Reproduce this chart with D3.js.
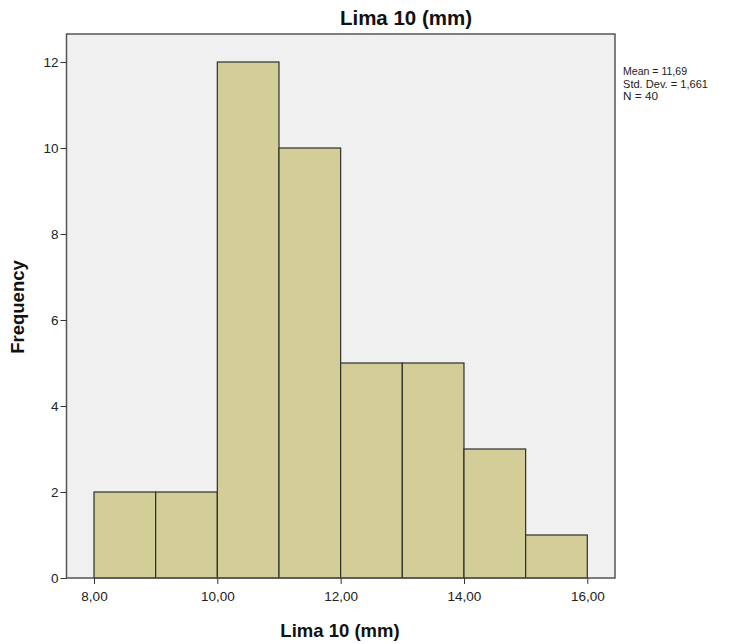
<!DOCTYPE html>
<html>
<head>
<meta charset="utf-8">
<script src="https://cdn.jsdelivr.net/npm/d3@7"></script>
<style>
  html, body { margin: 0; padding: 0; background: #ffffff; }
  svg { display: block; font-family: "Liberation Sans", Arial, sans-serif; }
</style>
</head>
<body>
<svg id="chart" width="736" height="644"></svg>
<script>
// Data
const binStarts = [8, 9, 10, 11, 12, 13, 14, 15];
const binEnds   = [9, 10, 11, 12, 13, 14, 15, 16];
const frequencies = [2, 2, 12, 10, 5, 5, 3, 1];
const xTicks = [8, 10, 12, 14, 16];
const yTicks = [0, 2, 4, 6, 8, 10, 12];
const statsLines = ["Mean = 11,69", "Std. Dev. = 1,661", "N = 40"];
const titleText = "Lima 10 (mm)";
const xLabel = "Lima 10 (mm)";
const yLabel = "Frequency";

const svg = d3.select("#chart");
const frame = { left: 66.5, right: 615, top: 34, bottom: 578 };

const x = d3.scaleLinear().domain([8, 16]).range([94, 587.3]);
const y = d3.scaleLinear().domain([0, 12]).range([578, 62]);

// Background panel
svg.append("rect")
  .attr("x", frame.left).attr("y", frame.top)
  .attr("width", frame.right - frame.left)
  .attr("height", frame.bottom - frame.top)
  .attr("fill", "#f0f0f0");

// Bars
const bins = binStarts.map((s, i) => ({ x0: s, x1: binEnds[i], n: frequencies[i] }));
svg.append("g").selectAll("rect").data(bins).join("rect")
  .attr("x", d => x(d.x0))
  .attr("y", d => y(d.n))
  .attr("width", d => x(d.x1) - x(d.x0))
  .attr("height", d => y(0) - y(d.n))
  .attr("fill", "#d3ce97")
  .attr("stroke", "#2e2e2e")
  .attr("stroke-width", 1.2);

// Frame
svg.append("rect")
  .attr("x", frame.left).attr("y", frame.top)
  .attr("width", frame.right - frame.left)
  .attr("height", frame.bottom - frame.top)
  .attr("fill", "none")
  .attr("stroke", "#555555")
  .attr("stroke-width", 1.5);

// Y axis
const yAxis = svg.append("g")
  .attr("transform", `translate(${frame.left},0)`)
  .call(d3.axisLeft(y).tickValues(yTicks).tickSize(6).tickPadding(2).tickFormat(d3.format("d")));
yAxis.select(".domain").remove();
yAxis.selectAll("line").attr("stroke", "#333");
yAxis.selectAll("text").attr("font-size", 13.5).attr("fill", "#222")
  .style("font-family", "'Liberation Sans', Arial, sans-serif");

// X axis
const fmt = d => d3.format(".2f")(d).replace(".", ",");
const xAxis = svg.append("g")
  .attr("transform", `translate(0,${frame.bottom})`)
  .call(d3.axisBottom(x).tickValues(xTicks).tickSize(6).tickPadding(7).tickFormat(fmt));
xAxis.select(".domain").remove();
xAxis.selectAll("line").attr("stroke", "#333");
xAxis.selectAll("text").attr("font-size", 13.5).attr("fill", "#222")
  .style("font-family", "'Liberation Sans', Arial, sans-serif");

// Title
svg.append("text")
  .attr("x", 406).attr("y", 25)
  .attr("text-anchor", "middle")
  .attr("font-size", 20.5).attr("font-weight", "bold").attr("fill", "#111")
  .text(titleText);

// X label
svg.append("text")
  .attr("x", 340).attr("y", 637)
  .attr("text-anchor", "middle")
  .attr("font-size", 18.5).attr("font-weight", "bold").attr("fill", "#111")
  .text(xLabel);

// Y label
svg.append("text")
  .attr("transform", `translate(24,307) rotate(-90)`)
  .attr("text-anchor", "middle")
  .attr("font-size", 18.5).attr("font-weight", "bold").attr("fill", "#111")
  .text(yLabel);

// Stats legend
svg.append("g").selectAll("text").data(statsLines).join("text")
  .attr("x", 623)
  .attr("y", (d, i) => 75 + i * 12.5)
  .attr("font-size", 10.5).attr("fill", "#222")
  .attr("textLength", (d, i) => [64, 85, 35][i])
  .attr("lengthAdjust", "spacingAndGlyphs")
  .text(d => d);
</script>
</body>
</html>
